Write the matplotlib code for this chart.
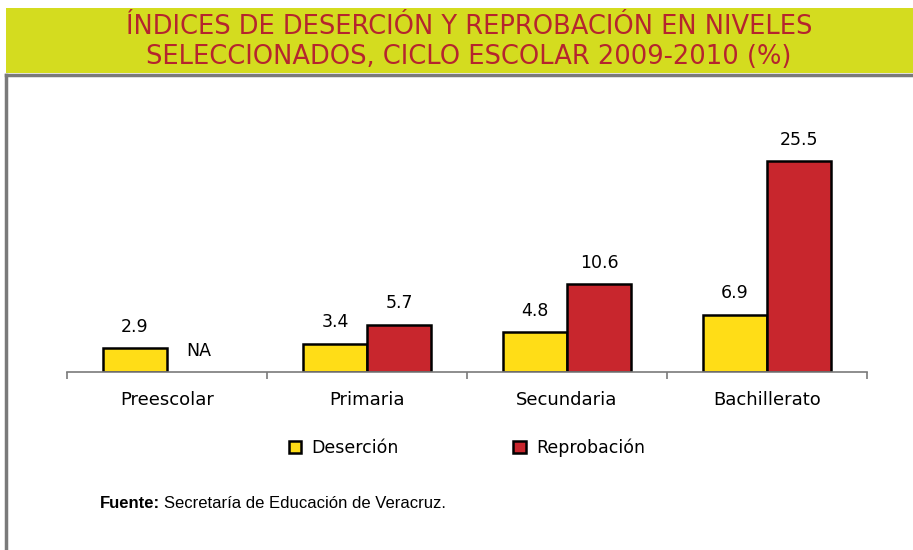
import matplotlib.pyplot as plt
import matplotlib.patches as mpatches
from matplotlib.lines import Line2D
import numpy as np

# Datos
niveles = ['Preescolar', 'Primaria', 'Secundaria', 'Bachillerato']
desercion = [2.9, 3.4, 4.8, 6.9]
reprobacion = [np.nan, 5.7, 10.6, 25.5]  # NA en preescolar

titulo = 'ÍNDICES DE DESERCIÓN Y REPROBACIÓN EN NIVELES\nSELECCIONADOS, CICLO ESCOLAR 2009-2010 (%)'

amarillo = '#FFDD17'
rojo = '#C8262D'
gris = '#7A7A7A'

fig = plt.figure(figsize=(9.13, 5.5), dpi=100)
W, H = 913, 550

# Banda del titulo
fig.patches.append(mpatches.Rectangle((6 / W, 1 - 73 / H), 1, 65 / H, transform=fig.transFigure,
                                      facecolor='#D4DC1F', edgecolor='none'))
fig.text(469 / W, 1 - 42 / H, titulo, ha='center', va='center', color='#B5252E',
         fontsize=18.5, linespacing=1.18, family='DejaVu Sans')

# Marco gris
fig.lines.append(Line2D([6 / W, 1], [1 - 75 / H, 1 - 75 / H], transform=fig.transFigure, color=gris, lw=2.5))
fig.lines.append(Line2D([6 / W, 6 / W], [0, 1 - 75 / H], transform=fig.transFigure, color=gris, lw=2.5))

ax = fig.add_axes([67 / W, 1 - 372 / H, 800 / W, 248 / H])
x = np.arange(len(niveles))
w = 0.32
ax.bar(x - w / 2, desercion, w, color=amarillo, edgecolor='black', linewidth=1.8, label='Deserción')
ax.bar(x + w / 2, reprobacion, w, color=rojo, edgecolor='black', linewidth=1.8, label='Reprobación')

for i in range(len(niveles)):
    ax.annotate(f'{desercion[i]}', (x[i] - w / 2, desercion[i]), xytext=(0, 9), textcoords='offset points',
                ha='center', va='bottom', fontsize=12.5)
    if np.isnan(reprobacion[i]):
        txt, val = 'NA', 0
    else:
        txt, val = f'{reprobacion[i]}', reprobacion[i]
    ax.annotate(txt, (x[i] + w / 2, val), xytext=(0, 9), textcoords='offset points',
                ha='center', va='bottom', fontsize=12.5)

ax.set_xlim(-0.5, 3.5)
ax.set_ylim(0, 30)
ax.set_yticks([])
for s in ['top', 'right', 'left']:
    ax.spines[s].set_visible(False)
ax.spines['bottom'].set_color(gris)
ax.spines['bottom'].set_linewidth(1.2)
ax.set_xticks(np.arange(-0.5, 4, 1))
ax.set_xticklabels([])
ax.set_xticks(x, minor=True)
ax.set_xticklabels(niveles, minor=True, fontsize=13)
ax.tick_params(axis='x', which='major', direction='out', length=5, color=gris, width=1.2)
ax.tick_params(axis='x', which='minor', length=0, pad=14)

# Leyenda
handles = [mpatches.Patch(facecolor=amarillo, edgecolor='black', linewidth=1.8, label='Deserción'),
           mpatches.Patch(facecolor=rojo, edgecolor='black', linewidth=1.8, label='Reprobación')]
fig.legend(handles=handles, loc='center', bbox_to_anchor=(467 / W, 1 - 448 / H), ncol=2, frameon=False,
           handlelength=0.7, handleheight=0.7, handletextpad=0.6, columnspacing=6.6,
           prop={'family': 'DejaVu Sans', 'size': 12.5})

# Fuente
t = fig.text(100 / W, 1 - 503 / H, 'Fuente:', fontsize=12, fontweight='bold', family='Liberation Sans',
             va='center')
fig.canvas.draw()
bb = t.get_window_extent()
fig.text((bb.x1 + 4) / W, 1 - 503 / H, 'Secretaría de Educación de Veracruz.', fontsize=12,
         family='Liberation Sans', va='center')

fig.savefig('out.png', dpi=100)
